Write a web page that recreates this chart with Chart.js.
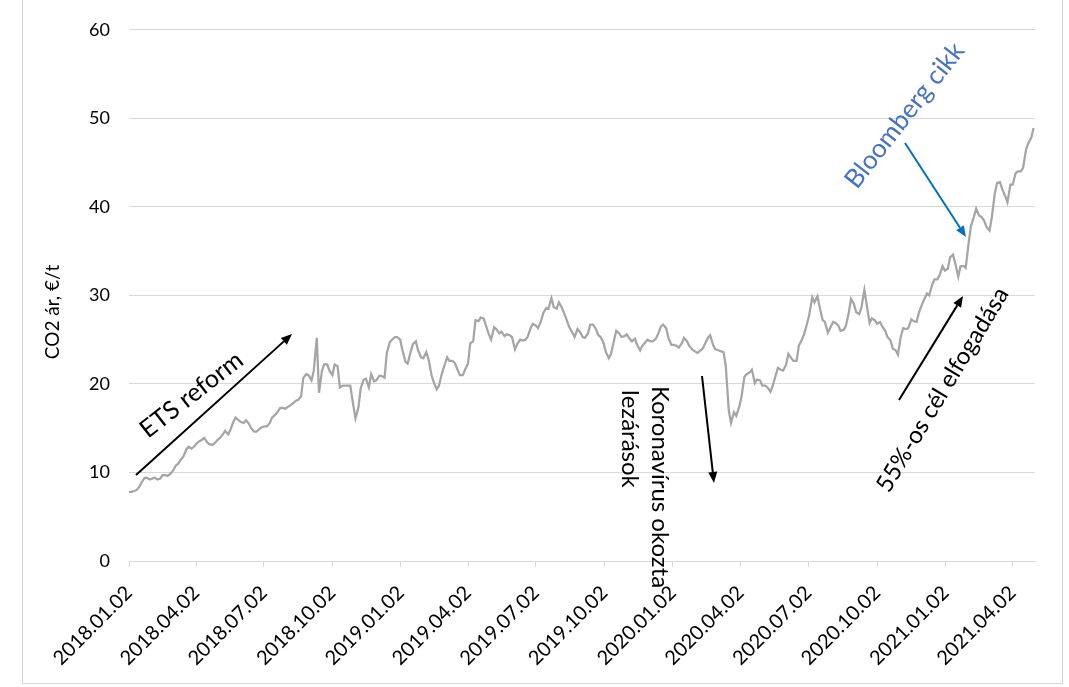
<!DOCTYPE html>
<html>
<head>
<meta charset="utf-8">
<script src="https://cdn.jsdelivr.net/npm/chart.js@4.4.1/dist/chart.umd.min.js"></script>
<style>
  html, body { margin: 0; padding: 0; background: #fff; }
  #wrap { position: relative; width: 1069px; height: 687px; overflow: hidden; }
  #frame { position: absolute; left: 22px; top: -1px; width: 1039px; height: 683px; border: 1px solid #d9d9d9; }
  #co2Chart { position: absolute; left: 0; top: 0; }
</style>
</head>
<body>
<div id="wrap">
  <div id="frame"></div>
  <canvas id="co2Chart" width="1069" height="687"></canvas>
</div>
<script>
// CO2 (EUA) price, EUR/t: one row per month,
// Tuesday of each week plus the Friday close of the same week
const weeks = [
  '2018-01-02','2018-01-09','2018-01-16','2018-01-23','2018-01-30',
  '2018-02-06','2018-02-13','2018-02-20','2018-02-27',
  '2018-03-06','2018-03-13','2018-03-20','2018-03-27',
  '2018-04-03','2018-04-10','2018-04-17','2018-04-24',
  '2018-05-01','2018-05-08','2018-05-15','2018-05-22','2018-05-29',
  '2018-06-05','2018-06-12','2018-06-19','2018-06-26',
  '2018-07-03','2018-07-10','2018-07-17','2018-07-24','2018-07-31',
  '2018-08-07','2018-08-14','2018-08-21','2018-08-28',
  '2018-09-04','2018-09-11','2018-09-18','2018-09-25',
  '2018-10-02','2018-10-09','2018-10-16','2018-10-23','2018-10-30',
  '2018-11-06','2018-11-13','2018-11-20','2018-11-27',
  '2018-12-04','2018-12-11','2018-12-18','2018-12-25',
  '2019-01-01','2019-01-08','2019-01-15','2019-01-22','2019-01-29',
  '2019-02-05','2019-02-12','2019-02-19','2019-02-26',
  '2019-03-05','2019-03-12','2019-03-19','2019-03-26',
  '2019-04-02','2019-04-09','2019-04-16','2019-04-23','2019-04-30',
  '2019-05-07','2019-05-14','2019-05-21','2019-05-28',
  '2019-06-04','2019-06-11','2019-06-18','2019-06-25',
  '2019-07-02','2019-07-09','2019-07-16','2019-07-23','2019-07-30',
  '2019-08-06','2019-08-13','2019-08-20','2019-08-27',
  '2019-09-03','2019-09-10','2019-09-17','2019-09-24',
  '2019-10-01','2019-10-08','2019-10-15','2019-10-22','2019-10-29',
  '2019-11-05','2019-11-12','2019-11-19','2019-11-26',
  '2019-12-03','2019-12-10','2019-12-17','2019-12-24','2019-12-31',
  '2020-01-07','2020-01-14','2020-01-21','2020-01-28',
  '2020-02-04','2020-02-11','2020-02-18','2020-02-25',
  '2020-03-03','2020-03-10','2020-03-17','2020-03-24','2020-03-31',
  '2020-04-07','2020-04-14','2020-04-21','2020-04-28',
  '2020-05-05','2020-05-12','2020-05-19','2020-05-26',
  '2020-06-02','2020-06-09','2020-06-16','2020-06-23','2020-06-30',
  '2020-07-07','2020-07-14','2020-07-21','2020-07-28',
  '2020-08-04','2020-08-11','2020-08-18','2020-08-25',
  '2020-09-01','2020-09-08','2020-09-15','2020-09-22','2020-09-29',
  '2020-10-06','2020-10-13','2020-10-20','2020-10-27',
  '2020-11-03','2020-11-10','2020-11-17','2020-11-24',
  '2020-12-01','2020-12-08','2020-12-15','2020-12-22','2020-12-29',
  '2021-01-05','2021-01-12','2021-01-19','2021-01-26',
  '2021-02-02','2021-02-09','2021-02-16','2021-02-23',
  '2021-03-02','2021-03-09','2021-03-16','2021-03-23','2021-03-30',
  '2021-04-06','2021-04-13','2021-04-20','2021-04-27'
];

const tuesdayClose = [
  7.8, 7.9, 8.4, 9.4, 9.2,
  9.4, 9.3, 9.7, 9.9,
  10.8, 11.5, 12.6, 12.7,
  13.3, 13.7, 13.4, 13.1,
  13.7, 14.3, 14.3, 15.7, 15.9,
  15.6, 15.5, 14.6, 14.9,
  15.2, 15.6, 16.5, 17.3, 17.2,
  17.6, 18.1, 18.6, 21.1,
  20.4, 25.2, 21.5, 22.2,
  21.0, 22.0, 19.8, 19.8, 17.6,
  17.4, 20.5, 19.6, 20.3,
  20.9, 20.7, 24.7, 25.3,
  25.0, 22.5, 23.6, 24.8, 23.0,
  23.6, 21.0, 19.4, 21.2,
  23.0, 22.6, 21.6, 21.0,
  22.3, 24.8, 27.1, 27.4, 25.6,
  26.4, 25.7, 25.4, 25.5,
  23.9, 25.0, 25.0, 26.3,
  26.6, 27.1, 28.6, 29.7, 28.5,
  28.6, 27.1, 25.8, 26.2,
  25.3, 25.7, 26.7, 25.5,
  24.6, 22.9, 24.9, 25.7, 25.4,
  25.1, 25.1, 23.8, 24.7,
  24.8, 25.1, 26.5, 26.3, 24.4,
  24.3, 24.6, 24.8, 23.9,
  23.5, 24.0, 25.2, 24.4,
  23.8, 23.6, 17.0, 16.8, 17.4,
  20.8, 21.3, 20.1, 20.4,
  19.8, 19.1, 21.0, 21.6,
  22.2, 22.9, 22.6, 25.0, 26.8,
  29.8, 29.9, 27.2, 25.8,
  27.0, 26.6, 26.1, 28.0,
  29.0, 27.9, 30.6, 26.9, 27.2,
  27.0, 26.0, 24.9, 23.8,
  25.4, 26.2, 27.3, 27.0,
  28.9, 30.2, 31.2, 31.8, 33.3,
  33.0, 34.6, 32.1, 33.3,
  36.0, 38.9, 39.0, 38.4,
  37.3, 41.5, 42.8, 41.2, 42.5,
  43.8, 44.0, 46.5, 47.8
];

const fridayClose = [
  7.8, 8.0, 8.9, 9.4, 9.3,
  9.2, 9.7, 9.6, 10.2,
  11.0, 11.8, 12.9, 12.9,
  13.5, 13.9, 13.2, 13.3,
  13.9, 14.7, 14.8, 16.2, 15.7,
  15.9, 15.0, 14.6, 15.1,
  15.2, 16.2, 16.8, 17.3, 17.4,
  17.8, 18.2, 20.7, 21.0,
  21.5, 19.0, 22.2, 21.5,
  22.2, 19.6, 19.8, 19.8, 16.1,
  19.5, 20.6, 21.1, 20.4,
  20.9, 23.5, 25.0, 25.3,
  23.8, 22.3, 24.5, 23.8, 22.9,
  22.8, 20.2, 19.8, 22.0,
  22.6, 22.4, 21.0, 21.6,
  24.6, 27.2, 27.5, 26.6, 25.0,
  26.2, 25.9, 25.6, 25.3,
  24.5, 24.9, 25.3, 26.8,
  26.3, 28.0, 28.5, 28.7, 29.2,
  28.0, 26.4, 25.3, 25.9,
  25.2, 26.7, 26.3, 25.3,
  23.6, 23.4, 26.0, 25.3, 25.6,
  24.8, 24.4, 24.3, 25.0,
  24.8, 25.6, 26.7, 25.2, 24.4,
  24.1, 25.2, 24.3, 23.7,
  23.7, 24.5, 25.5, 23.9,
  23.7, 22.0, 15.6, 16.4, 18.5,
  21.1, 21.6, 20.5, 19.8,
  19.6, 19.8, 21.8, 21.5,
  23.4, 22.6, 24.3, 25.6, 27.8,
  29.2, 28.7, 27.0, 26.3,
  26.9, 26.0, 26.5, 29.6,
  28.1, 28.6, 29.0, 27.4, 26.8,
  26.5, 25.3, 24.0, 23.3,
  26.3, 26.3, 27.1, 28.0,
  29.5, 30.0, 31.8, 32.3, 32.8,
  34.3, 33.6, 33.3, 33.1,
  37.8, 39.8, 38.9, 37.7,
  38.8, 42.7, 42.0, 40.5, 42.5,
  44.0, 44.4, 47.2, 48.9
];

const tickLabels = [
  '2018.01.02','2018.04.02','2018.07.02','2018.10.02',
  '2019.01.02','2019.04.02','2019.07.02','2019.10.02',
  '2020.01.02','2020.04.02','2020.07.02','2020.10.02',
  '2021.01.02','2021.04.02'
];
const axisEnd = '2021.05.02';

const t0 = Date.UTC(2018, 0, 2);
function dayOf(s) {
  const p = s.split(/[-.]/).map(Number);
  return Math.round((Date.UTC(p[0], p[1] - 1, p[2]) - t0) / 86400000);
}
const tickText = {};
tickLabels.forEach(function (t) { tickText[dayOf(t)] = t; });

const points = [];
weeks.forEach(function (w, i) {
  points.push({ x: dayOf(w), y: tuesdayClose[i] });
  points.push({ x: dayOf(w) + 3, y: fridayClose[i] });
});

function arrow(ctx, x1, y1, x2, y2, color) {
  const a = Math.atan2(y2 - y1, x2 - x1);
  const hl = 11, hw = 4.5;
  const bx = x2 - hl * Math.cos(a), by = y2 - hl * Math.sin(a);
  ctx.strokeStyle = color;
  ctx.fillStyle = color;
  ctx.lineWidth = 2;
  ctx.beginPath();
  ctx.moveTo(x1, y1);
  ctx.lineTo(bx, by);
  ctx.stroke();
  ctx.beginPath();
  ctx.moveTo(x2, y2);
  ctx.lineTo(bx + hw * Math.sin(a), by - hw * Math.cos(a));
  ctx.lineTo(bx - hw * Math.sin(a), by + hw * Math.cos(a));
  ctx.closePath();
  ctx.fill();
}

function label(ctx, str, x, y, deg, color, font) {
  ctx.save();
  ctx.translate(x, y);
  ctx.rotate(deg * Math.PI / 180);
  ctx.font = font || '24px Lato';
  ctx.fillStyle = color;
  ctx.textAlign = 'left';
  ctx.textBaseline = 'alphabetic';
  ctx.fillText(str, 0, 0);
  ctx.restore();
}

const notes = {
  id: 'notes',
  afterDraw(chart) {
    const ctx = chart.ctx;
    ctx.save();
    // y axis title
    ctx.save();
    ctx.translate(59, 312);
    ctx.rotate(-Math.PI / 2);
    ctx.font = '19px Lato';
    ctx.fillStyle = '#000';
    ctx.textAlign = 'center';
    ctx.textBaseline = 'alphabetic';
    ctx.fillText('CO2 ár, €/t', 0, 0);
    ctx.restore();

    arrow(ctx, 136, 475, 292, 334, '#000');
    label(ctx, 'ETS reform', 148, 439, -38, '#000', '25px Lato');

    arrow(ctx, 702, 376, 714, 483, '#000');
    label(ctx, 'Koronavírus okozta', 652, 386, 90, '#000');
    label(ctx, 'lezárások', 622, 390, 90, '#000');

    arrow(ctx, 899, 400, 963, 296, '#000');
    label(ctx, '55%-os cél elfogadása', 889, 494, -59, '#000');

    arrow(ctx, 905, 143, 966, 237, '#0070C0');
    label(ctx, 'Bloomberg cikk', 857, 190, -52, '#4472C4', '26px Lato');
    ctx.restore();
  }
};

function build() {
  const ctx = document.getElementById('co2Chart');
  const co2Chart = new Chart(ctx, {
    type: 'line',
    data: {
      datasets: [{
        label: 'CO2 ár',
        data: points,
        borderColor: '#a5a5a5',
        borderWidth: 2.25,
        pointRadius: 0,
        tension: 0,
        fill: false
      }]
    },
    options: {
      responsive: false,
      animation: false,
      layout: { padding: { left: 22, right: 34, top: 26, bottom: 0 } },
      plugins: {
        legend: { display: false },
        tooltip: { enabled: false }
      },
      scales: {
        x: {
          type: 'linear',
          min: 0,
          max: dayOf(axisEnd),
          afterBuildTicks: function (s) {
            s.ticks = tickLabels.map(function (t) { return { value: dayOf(t) }; });
          },
          afterFit: function (s) { s.height = 126; },
          ticks: {
            autoSkip: false,
            minRotation: 45,
            maxRotation: 45,
            padding: 14,
            color: '#000',
            font: { family: 'Lato', size: 20 },
            callback: function (v) { return tickText[v] || ''; }
          },
          grid: { drawOnChartArea: false, drawTicks: true, tickLength: 6, color: '#d9d9d9' },
          border: { color: '#d9d9d9', width: 1 }
        },
        y: {
          min: 0,
          max: 60,
          afterFit: function (s) { s.width = 107; },
          ticks: {
            stepSize: 10,
            padding: 19,
            color: '#000',
            font: { family: 'Lato', size: 18 }
          },
          grid: { color: '#d9d9d9', drawTicks: false },
          border: { display: false }
        }
      }
    },
    plugins: [notes]
  });
}

if (document.fonts && document.fonts.load) {
  document.fonts.load('18px Lato').then(build, build);
} else {
  build();
}
</script>
</body>
</html>
